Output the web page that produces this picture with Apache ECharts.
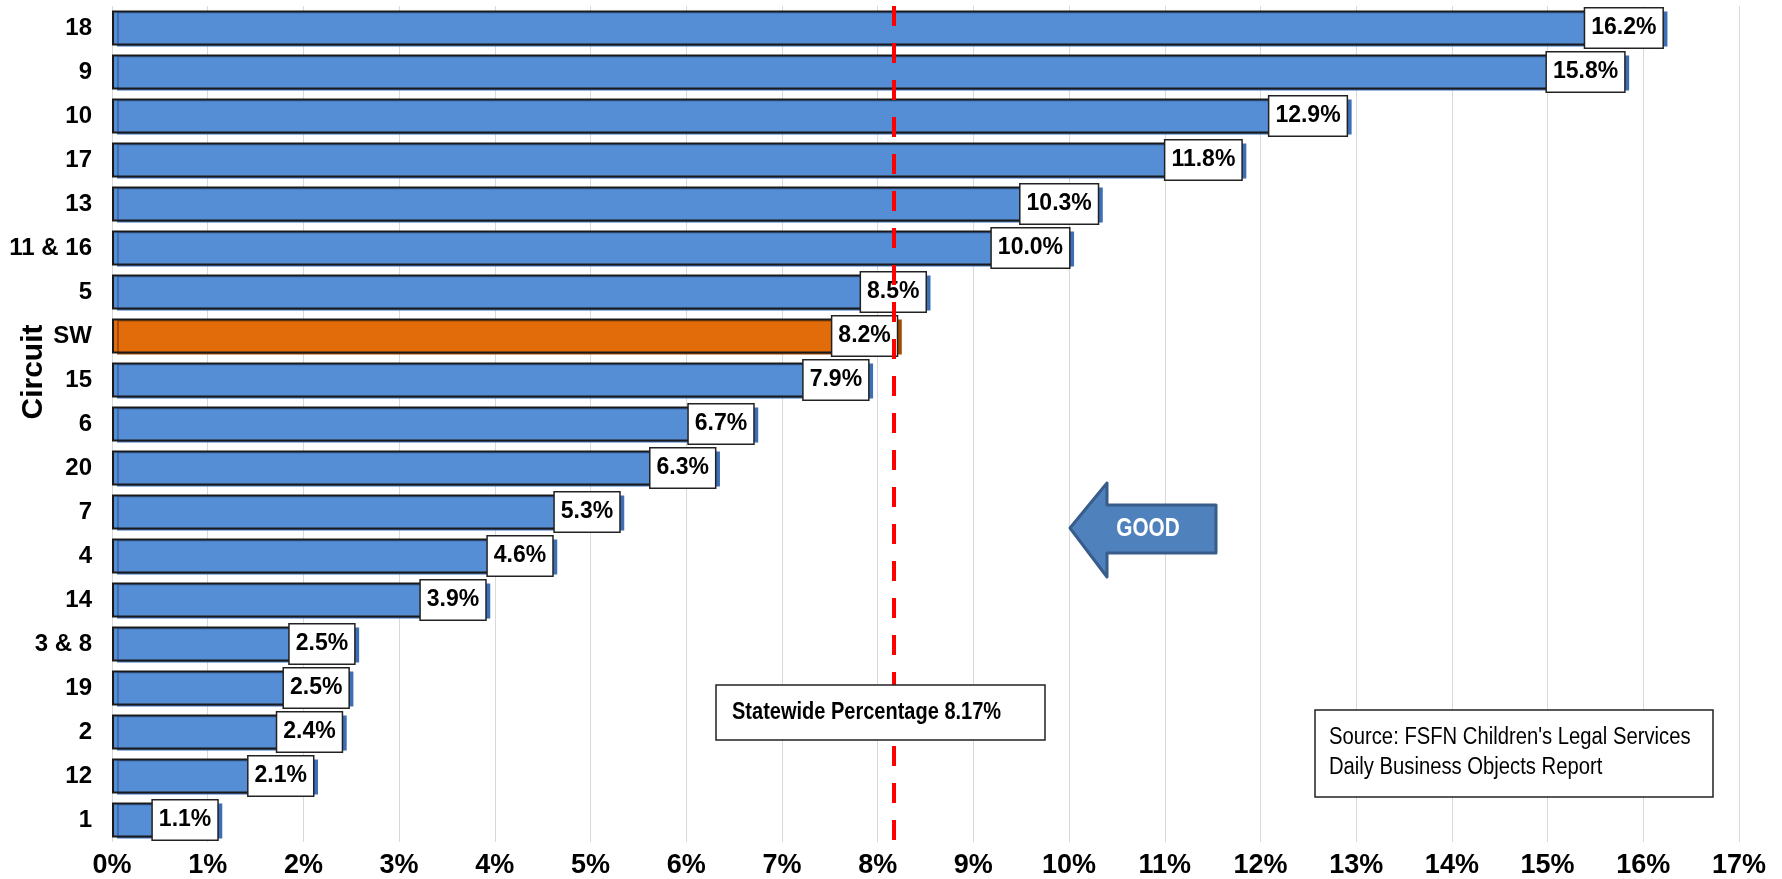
<!DOCTYPE html>
<html>
<head>
<meta charset="utf-8">
<title>Circuit percentages</title>
<script src="https://cdn.jsdelivr.net/npm/echarts@6/dist/echarts.min.js"></script>
<style>
  html, body { margin: 0; padding: 0; background: #fff; }
  #chart { width: 1782px; height: 879px; }
</style>
</head>
<body>
<div id="chart"></div>
<script>
// data, top to bottom
var circuits = ['18', '9', '10', '17', '13', '11 & 16', '5', 'SW', '15', '6', '20', '7', '4', '14', '3 & 8', '19', '2', '12', '1'];
var percents = [16.2, 15.8, 12.9, 11.8, 10.3, 10.0, 8.5, 8.2, 7.9, 6.7, 6.3, 5.3, 4.6, 3.9, 2.53, 2.47, 2.4, 2.1, 1.1];
var statewide = 8.17;
var xTicks = [0, 17, 1];   // min, max, step (percent)

var sans = "'Liberation Sans', Arial, sans-serif";

var chart = echarts.init(document.getElementById('chart'));

var barData = percents.map(function (v, i) {
  if (circuits[i] === 'SW') {
    return { value: v, itemStyle: { color: '#E36C0A', shadowColor: '#a34b00' } };
  }
  return v;
});

var option = {
  animation: false,
  grid: { left: 112, right: 43, top: 6, bottom: 37, containLabel: false },
  xAxis: {
    type: 'value',
    min: xTicks[0],
    max: xTicks[1],
    interval: xTicks[2],
    axisLine: { show: false },
    axisTick: { show: false },
    splitLine: { show: true, lineStyle: { color: '#d9d9d9', width: 1 } },
    axisLabel: {
      formatter: '{value}%',
      fontSize: 27,
      fontWeight: 'bold',
      color: '#000',
      fontFamily: sans,
      margin: 10
    }
  },
  yAxis: {
    type: 'category',
    inverse: true,
    data: circuits,
    axisLine: { show: false },
    axisTick: { show: false },
    axisLabel: {
      fontSize: 24,
      fontWeight: 'bold',
      color: '#000',
      fontFamily: sans,
      margin: 20
    }
  },
  series: [
    {
      type: 'bar',
      data: barData,
      barCategoryGap: '20%',
      itemStyle: {
        color: '#558ED5',
        borderColor: '#1a1a1a',
        borderWidth: 2,
        shadowColor: '#3d6fb5',
        shadowOffsetX: 5,
        shadowOffsetY: 1,
        shadowBlur: 0
      },
      label: {
        show: true,
        position: 'insideRight',
        distance: 0,
        formatter: function (p) { return p.value.toFixed(1) + '%'; },
        backgroundColor: '#fff',
        borderColor: '#222',
        borderWidth: 1.5,
        padding: [4, 6, 4, 6],
        lineHeight: 31,
        fontSize: 23,
        fontWeight: 'bold',
        color: '#000',
        fontFamily: sans
      },
      markLine: {
        silent: true,
        symbol: 'none',
        label: { show: false },
        lineStyle: { color: '#ff0000', width: 4, type: [20, 17] },
        data: [{ xAxis: statewide }],
        z: 10
      }
    }
  ],
  graphic: [
    {
      type: 'text',
      x: 34, y: 372,
      rotation: Math.PI / 2,
      style: {
        text: 'Circuit',
        font: 'bold 30px ' + sans,
        fill: '#000',
        align: 'center',
        verticalAlign: 'middle'
      }
    },
    {
      type: 'rect',
      z: 100,
      shape: { x: 716, y: 685, width: 329, height: 55 },
      style: { fill: '#fff', stroke: '#222', lineWidth: 1.5 }
    },
    {
      type: 'text',
      z: 101,
      x: 732, y: 713,
      scaleX: 0.87,
      style: {
        text: 'Statewide Percentage ' + statewide + '%',
        font: 'bold 23px ' + sans,
        fill: '#000',
        verticalAlign: 'middle'
      }
    },
    {
      type: 'rect',
      z: 100,
      shape: { x: 1315, y: 710, width: 398, height: 87 },
      style: { fill: '#fff', stroke: '#222', lineWidth: 1.5 }
    },
    {
      type: 'text',
      z: 101,
      x: 1329, y: 753,
      scaleX: 0.88,
      style: {
        text: "Source: FSFN Children's Legal Services\nDaily Business Objects Report",
        font: '23px ' + sans,
        lineHeight: 30,
        fill: '#000',
        verticalAlign: 'middle'
      }
    },
    {
      type: 'polygon',
      z: 100,
      shape: {
        points: [[1070, 528], [1107, 483], [1107, 505], [1216, 505], [1216, 553], [1107, 553], [1107, 577]]
      },
      style: { fill: '#4F81BD', stroke: '#385D8A', lineWidth: 3, lineJoin: 'round' }
    },
    {
      type: 'text',
      z: 101,
      x: 1148, y: 529,
      scaleX: 0.8,
      style: {
        text: 'GOOD',
        font: 'bold 26px ' + sans,
        fill: '#fff',
        align: 'center',
        verticalAlign: 'middle'
      }
    }
  ]
};

chart.setOption(option);
</script>
</body>
</html>
